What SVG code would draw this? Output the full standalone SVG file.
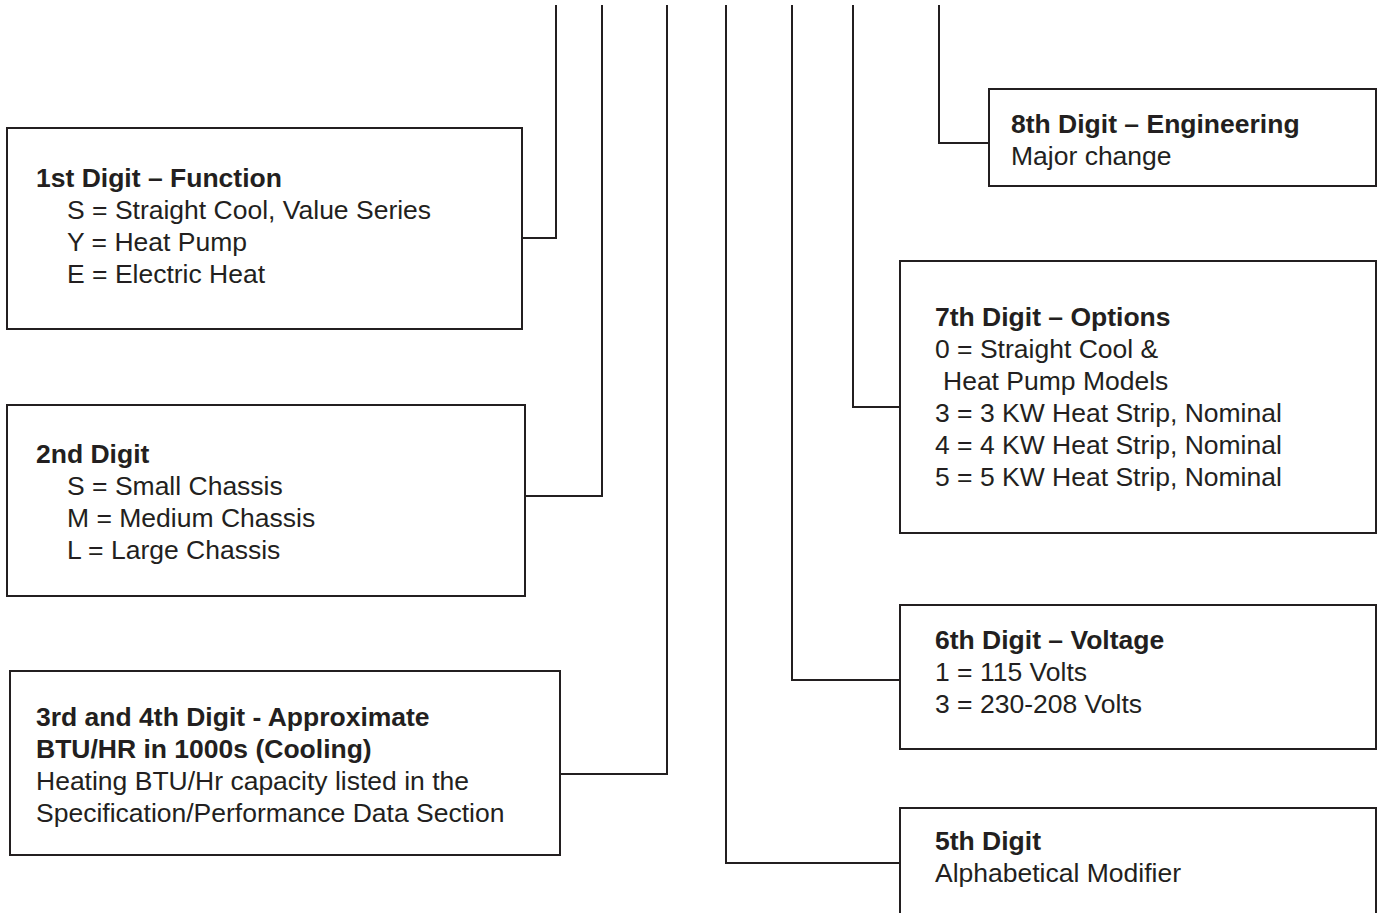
<svg xmlns="http://www.w3.org/2000/svg" width="1379" height="913" viewBox="0 0 1379 913">
<style>
.box{fill:#fff;stroke:#231f20;stroke-width:2}
.t{font-family:"Liberation Sans",Arial,sans-serif;font-size:26.5px;fill:#231f20}
.b{font-weight:bold}
.c{fill:none;stroke:#231f20;stroke-width:2}
</style>
<rect width="1379" height="913" fill="#fff"/>
<g id="connectors">
<polyline class="c" points="522,238 556,238 556,5"/>
<polyline class="c" points="525,496 602,496 602,5"/>
<polyline class="c" points="560,774 667,774 667,5"/>
<polyline class="c" points="900,863 726,863 726,5"/>
<polyline class="c" points="900,680 792,680 792,5"/>
<polyline class="c" points="900,407 853,407 853,5"/>
<polyline class="c" points="989,143 939,143 939,5"/>
</g>
<g id="digit1">
<rect class="box" x="7" y="128" width="515" height="201"/>
<text class="t b" x="36" y="186.5">1st Digit – Function</text>
<text class="t" x="67" y="218.5">S = Straight Cool, Value Series</text>
<text class="t" x="67" y="250.5">Y = Heat Pump</text>
<text class="t" x="67" y="282.5">E = Electric Heat</text>
</g>
<g id="digit2">
<rect class="box" x="7" y="405" width="518" height="191"/>
<text class="t b" x="36" y="463">2nd Digit</text>
<text class="t" x="67" y="495">S = Small Chassis</text>
<text class="t" x="67" y="527">M = Medium Chassis</text>
<text class="t" x="67" y="559">L = Large Chassis</text>
</g>
<g id="digit34">
<rect class="box" x="10" y="671" width="550" height="184"/>
<text class="t b" x="36" y="726">3rd and 4th Digit - Approximate</text>
<text class="t b" x="36" y="758">BTU/HR in 1000s (Cooling)</text>
<text class="t" x="36" y="790">Heating BTU/Hr capacity listed in the</text>
<text class="t" x="36" y="822">Specification/Performance Data Section</text>
</g>
<g id="digit8">
<rect class="box" x="989" y="89" width="387" height="97"/>
<text class="t b" x="1011" y="133">8th Digit – Engineering</text>
<text class="t" x="1011" y="165">Major change</text>
</g>
<g id="digit7">
<rect class="box" x="900" y="261" width="476" height="272"/>
<text class="t b" x="935" y="326">7th Digit – Options</text>
<text class="t" x="935" y="358">0 = Straight Cool &amp;</text>
<text class="t" x="943" y="390">Heat Pump Models</text>
<text class="t" x="935" y="422">3 = 3 KW Heat Strip, Nominal</text>
<text class="t" x="935" y="454">4 = 4 KW Heat Strip, Nominal</text>
<text class="t" x="935" y="486">5 = 5 KW Heat Strip, Nominal</text>
</g>
<g id="digit6">
<rect class="box" x="900" y="605" width="476" height="144"/>
<text class="t b" x="935" y="649">6th Digit – Voltage</text>
<text class="t" x="935" y="681">1 = 115 Volts</text>
<text class="t" x="935" y="713">3 = 230-208 Volts</text>
</g>
<g id="digit5">
<rect class="box" x="900" y="808" width="476" height="130"/>
<text class="t b" x="935" y="850">5th Digit</text>
<text class="t" x="935" y="882">Alphabetical Modifier</text>
</g>
</svg>
